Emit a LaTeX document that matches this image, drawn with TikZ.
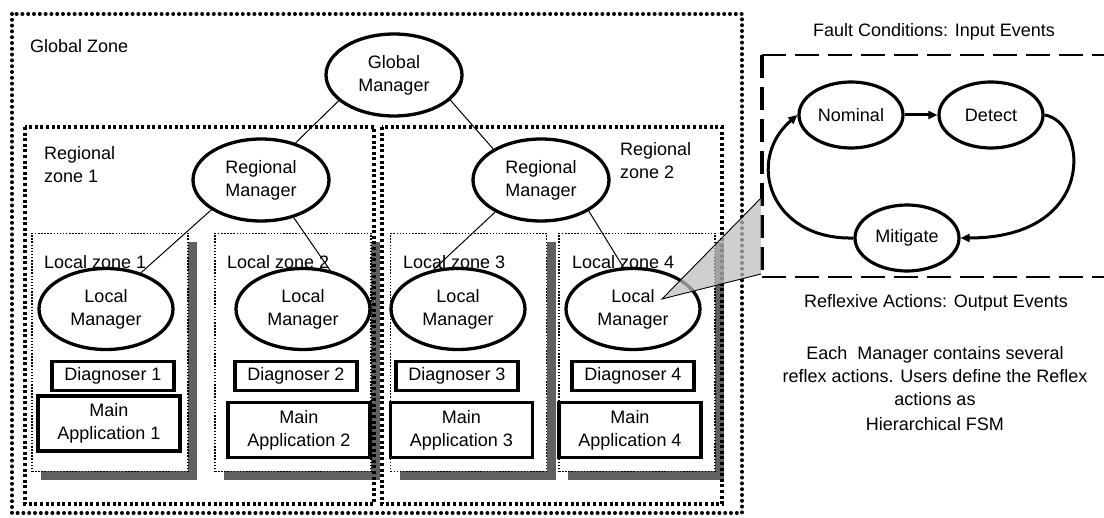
\documentclass[tikz,border=0pt]{standalone}
\usepackage{fontspec}
\setmainfont{Liberation Sans}
\usetikzlibrary{shapes.geometric,arrows.meta,shadows}
\definecolor{shadowgray}{RGB}{96,96,96}
\definecolor{calloutgray}{RGB}{189,189,189}
\begin{document}
\begin{tikzpicture}[x=1pt,y=-1pt,
  every node/.style={font=\fontsize{18}{23}\selectfont, inner sep=0pt},
  mgr/.style={ellipse, draw, line width=3.3pt, fill=white, align=center},
  bigmgr/.style={mgr, minimum width=136pt, minimum height=82pt},
  locmgr/.style={mgr, minimum width=134pt, minimum height=81pt},
  diag/.style={rectangle, draw, line width=3.2pt, fill=white, minimum width=122pt, minimum height=29pt},
  app/.style={rectangle, draw, line width=3.2pt, fill=white, align=center, minimum width=142pt, minimum height=55pt},
  lzone/.style={rectangle, draw, fill=white, line width=1.5pt, dash pattern=on 1.5pt off 1.6pt,
    minimum width=156pt, minimum height=238pt,
    general shadow={fill=shadowgray, shadow xshift=9pt, shadow yshift=-9pt}},
  rzone/.style={line width=3.1pt, dash pattern=on 3pt off 2.6pt},
  gzone/.style={line width=4pt, line cap=round, dash pattern=on 0pt off 5.8pt},
  link/.style={line width=1pt},
  state/.style={ellipse, draw, line width=3.2pt, fill=white, minimum width=104pt, minimum height=66pt},
  trans/.style={line width=3pt, -{Triangle[length=9pt,width=8pt]}},
  fsmedge/.style={line width=2.2pt, dash pattern=on 24pt off 9pt},
  fsmside/.style={line width=3.4pt, dash pattern=on 23pt off 9pt},
]
\useasboundingbox[fill=white] (0,0) rectangle (1104,518);

% local zones with their drop shadows
\node[lzone] (lz1) at (110,352.5) {};
\node[lzone] (lz2) at (293,352.5) {};
\node[lzone] (lz3) at (468.5,352.5) {};
\node[lzone] (lz4) at (637,352.5) {};

% regional and global zones
\draw[rzone] (25,127) rectangle (374,504);
\draw[rzone] (382,127) rectangle (722,504);
\draw[gzone] (12,14) rectangle (742,513);

% zone labels
\node[anchor=west] (gzlabel) at (30,46) {Global Zone};
\node[anchor=west, align=left] (rz1label) at (44,165) {Regional\\zone 1};
\node[anchor=west, align=left] (rz2label) at (620,161) {Regional\\zone 2};
\node[anchor=west] (lz1label) at (44,262) {Local zone 1};
\node[anchor=west] (lz2label) at (227,262) {Local zone 2};
\node[anchor=west] (lz3label) at (403,262) {Local zone 3};
\node[anchor=west] (lz4label) at (572,262) {Local zone 4};

% managers
\node[bigmgr] (gm) at (394,75) {Global\\Manager};
\node[bigmgr] (rm1) at (261,180) {Regional\\Manager};
\node[bigmgr] (rm2) at (541,180) {Regional\\Manager};
\node[locmgr] (lm1) at (106,309) {Local\\Manager};
\node[locmgr] (lm2) at (303,309) {Local\\Manager};
\node[locmgr] (lm3) at (458,309) {Local\\Manager};
\node[locmgr] (lm4) at (633,309) {Local\\Manager};

% diagnosers and applications
\node[diag] (d1) at (113,376) {Diagnoser 1};
\node[diag] (d2) at (296,376) {Diagnoser 2};
\node[diag] (d3) at (457,376) {Diagnoser 3};
\node[diag] (d4) at (633,376) {Diagnoser 4};
\node[app] (a1) at (109,423.5) {Main\\Application 1};
\node[app] (a2) at (299,430) {Main\\Application 2};
\node[app] (a3) at (461.5,430) {Main\\Application 3};
\node[app] (a4) at (630,430) {Main\\Application 4};

% hierarchy links
\draw[link] (gm.205) -- (rm1.47);
\draw[link] (gm.336) -- (rm2.147);
\draw[link] (rm1.211) -- (lm1.46);
\draw[link] (rm1.311) -- (lm2.55);
\draw[link] (rm2.215) -- (lm3.122);
\draw[link] (rm2.327) -- (lm4.103);

% reflex FSM frame
\coordinate (fa) at (762,55);
\coordinate (fb) at (762,277);
\coordinate (fc) at (1104,55);
\coordinate (fd) at (1104,277);
\draw[fsmedge] (fa) -- (fc);
\draw[fsmedge] (fb) -- (fd);
\draw[fsmside] (fa) -- (fb);

% callout from a local manager to the FSM
\coordinate (tip) at (662,299);
\coordinate (ct) at (761,198);
\coordinate (cb) at (761,274);
\fill[calloutgray, opacity=0.72] (tip) -- (ct) -- (cb) -- cycle;
\draw[line width=0.9pt] (ct) -- (tip) -- (cb);

% FSM states and transitions
\node[state] (nom) at (851,115) {Nominal};
\node[state] (det) at (991,115) {Detect};
\node[state] (mit) at (907,238) {Mitigate};
\draw[trans] (nom) -- (det);
\draw[trans] (det.east) .. controls (1088,122) and (1098,238) .. (mit.east);
\draw[trans] (mit.west) .. controls (770,240) and (745,160) .. (nom.west);

% FSM captions
\node (incap) at (934,32) {Fault Conditions: Input Events};
\node (outcap) at (936,303) {Reflexive Actions: Output Events};
\node[align=center] (note) at (935,389) {Each\ \ Manager contains several\\reflex actions. Users define the Reflex\\actions as\\[2pt]Hierarchical FSM};
\end{tikzpicture}
\end{document}
